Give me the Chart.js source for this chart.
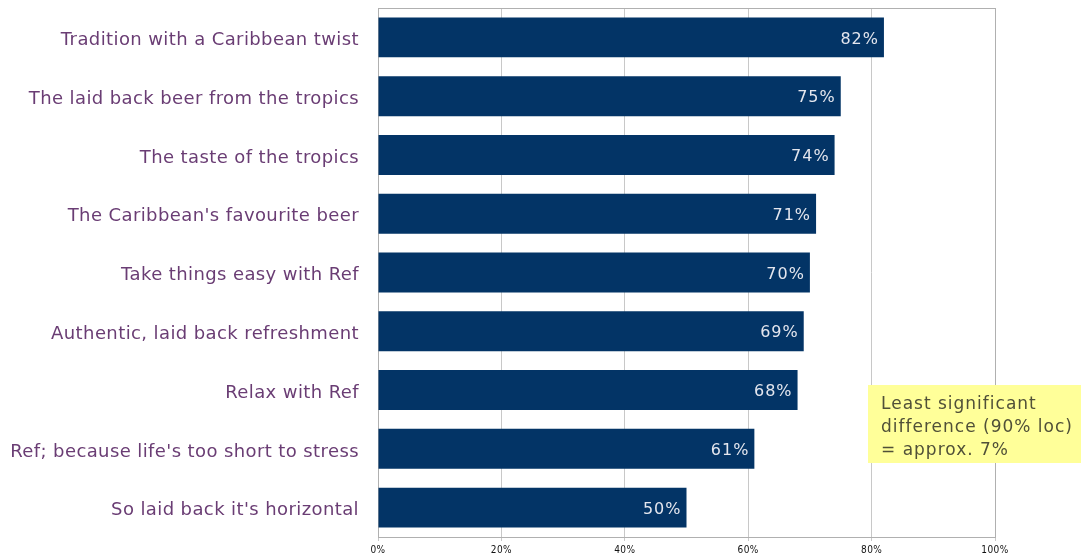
<!DOCTYPE html>
<html>
<head>
<meta charset="utf-8">
<script src="https://cdn.jsdelivr.net/npm/chart.js@4/dist/chart.umd.min.js"></script>
<style>
  html, body { margin: 0; padding: 0; background: #fff; }
  #wrap { width: 1081px; height: 558px; position: relative; }
</style>
</head>
<body>
<div id="wrap"><canvas id="chart"></canvas></div>
<script>
const categories = [
  "Tradition with a Caribbean twist",
  "The laid back beer from the tropics",
  "The taste of the tropics",
  "The Caribbean's favourite beer",
  "Take things easy with Ref",
  "Authentic, laid back refreshment",
  "Relax with Ref",
  "Ref; because life's too short to stress",
  "So laid back it's horizontal"
];
const values = [82, 75, 74, 71, 70, 69, 68, 61, 50];
const noteLines = ["Least significant", "difference (90% loc)", "= approx. 7%"];

// value labels inside the bar ends
const barLabels = {
  id: 'barLabels',
  afterDatasetsDraw(chart) {
    const ctx = chart.ctx;
    const meta = chart.getDatasetMeta(0);
    ctx.save();
    ctx.letterSpacing = '1px';
    ctx.font = '16px "DejaVu Sans"';
    ctx.fillStyle = '#e4e6ee';
    ctx.textAlign = 'right';
    ctx.textBaseline = 'middle';
    meta.data.forEach((bar, i) => {
      ctx.fillText(values[i] + '%', bar.x - 5, bar.y + 2);
    });
    ctx.restore();
  }
};

// yellow note box
const noteBox = {
  id: 'noteBox',
  afterDraw(chart) {
    const ctx = chart.ctx;
    ctx.save();
    ctx.fillStyle = '#ffff99';
    ctx.fillRect(868, 385, 213, 78);
    ctx.letterSpacing = '1px';
    ctx.font = '17px "DejaVu Sans"';
    ctx.fillStyle = '#505038';
    ctx.textAlign = 'left';
    ctx.textBaseline = 'middle';
    noteLines.forEach((t, i) => ctx.fillText(t, 881, 405 + i * 23));
    ctx.restore();
  }
};

// wider letter spacing for the axis labels, like the original
const spacing = {
  id: 'spacing',
  beforeDraw(chart) { chart.ctx.letterSpacing = '0.4px'; },
  beforeDatasetsDraw(chart) { chart.ctx.letterSpacing = '0px'; }
};

new Chart(document.getElementById('chart'), {
  type: 'bar',
  data: {
    labels: categories,
    datasets: [{
      data: values,
      backgroundColor: '#033466',
      borderWidth: 0,
      barPercentage: 0.68,
      categoryPercentage: 1.0
    }]
  },
  options: {
    indexAxis: 'y',
    responsive: true,
    maintainAspectRatio: false,
    animation: false,
    layout: { padding: { top: 8, right: 86, left: 0, bottom: 0 } },
    plugins: {
      legend: { display: false },
      tooltip: { enabled: false }
    },
    scales: {
      x: {
        min: 0,
        max: 100,
        ticks: {
          stepSize: 20,
          callback: v => v + '%',
          font: { family: '"DejaVu Sans Condensed"', size: 10 },
          color: '#111',
          padding: 3,
          maxRotation: 0
        },
        grid: { color: '#c8c8c8', tickLength: 4, drawTicks: true },
        border: { color: '#b0b0b0' },
        afterFit(scale) { scale.height = 21; scale.paddingLeft = 0; scale.paddingRight = 0; }
      },
      y: {
        ticks: {
          font: { family: '"DejaVu Sans"', size: 18 },
          color: '#6a3d74',
          padding: 19,
          labelOffset: 3
        },
        grid: { display: false, drawTicks: false },
        border: { color: '#b0b0b0' },
        afterFit(scale) { scale.width = 378; scale.paddingTop = 0; scale.paddingBottom = 0; }
      }
    }
  },
  plugins: [spacing, barLabels, noteBox, {
    id: 'frame',
    beforeDatasetsDraw(chart) {
      const a = chart.chartArea;
      const ctx = chart.ctx;
      ctx.save();
      ctx.strokeStyle = '#b0b0b0';
      ctx.lineWidth = 1;
      ctx.strokeRect(a.left + 0.5, a.top + 0.5, a.right - a.left, a.bottom - a.top);
      ctx.restore();
    }
  }]
});
</script>
</body>
</html>
